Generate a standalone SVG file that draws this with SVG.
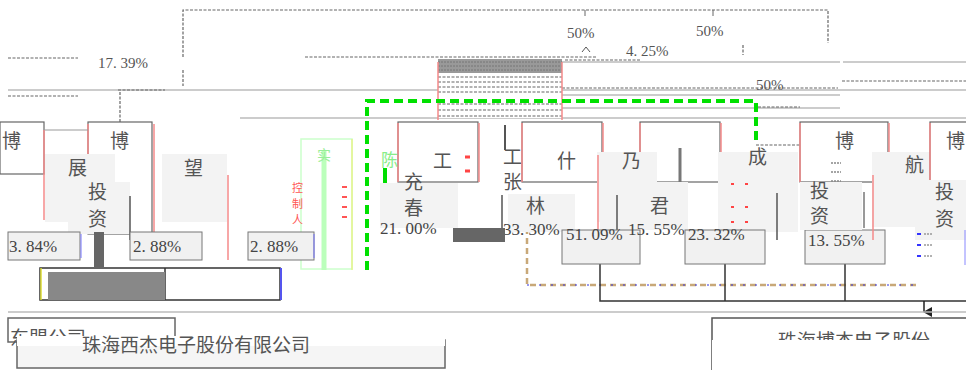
<svg xmlns="http://www.w3.org/2000/svg" width="966" height="370" viewBox="0 0 966 370">
<defs>
<style>
.cj{font-family:"Noto Sans CJK SC","Liberation Serif",serif;fill:#555;font-size:19px}
.pc{font-family:"Liberation Serif",serif;fill:#444;font-size:17px}
.pct{font-family:"Liberation Serif",serif;fill:#555;font-size:15px}
.bx{fill:#fff;stroke:#666;stroke-width:1.2}
.gb{fill:#f3f3f3;stroke:none}
.pb{fill:#f1f1f1;stroke:#777;stroke-width:1}
.red{stroke:#f58a8a;stroke-width:1.5}
.dash{fill:none;stroke:#666;stroke-width:1.2;stroke-dasharray:3 1.5}
.ln{fill:none;stroke:#bbb;stroke-width:1.5}
.sl{fill:none;stroke:#333;stroke-width:1.5}
.blu{stroke:#5555ee;stroke-width:2}
</style>
<marker id="ar" markerWidth="10" markerHeight="10" refX="5" refY="8" orient="auto" markerUnits="userSpaceOnUse"><path d="M0,0 L10,0 L5,9 z" fill="#222"/></marker>
</defs>
<rect width="966" height="370" fill="#fff"/>

<g id="connectors">
<path class="dash" d="M183,57 V10 H828 V43"/>
<line x1="585" y1="10" x2="585" y2="16" stroke="#666"/>
<line x1="713" y1="10" x2="713" y2="16" stroke="#666"/>
<line class="dash" x1="8" y1="58" x2="78" y2="58"/>
<line class="dash" x1="305" y1="57" x2="596" y2="57"/>
<path d="M582,52 L586,47 L590,52" fill="none" stroke="#555"/>
<line class="ln" x1="440" y1="62" x2="840" y2="62"/>
<line class="dash" x1="565" y1="60" x2="640" y2="60" stroke="#aa9"/>
<line class="ln" x1="8" y1="90" x2="966" y2="90"/>
<line class="dash" x1="8" y1="96" x2="78" y2="96"/>
<line class="dash" x1="118" y1="90" x2="165" y2="90" stroke="#e88"/>
<line class="ln" x1="240" y1="118" x2="966" y2="118" stroke="#ccc"/>
<line class="dash" x1="562" y1="88" x2="838" y2="88" stroke="#c88"/>
<line class="dash" x1="842" y1="81" x2="966" y2="81" stroke="#998"/>
<line class="ln" x1="843" y1="62" x2="966" y2="62"/>
<line class="ln" x1="560" y1="95" x2="840" y2="95"/>
<line class="ln" x1="560" y1="108" x2="840" y2="108"/>
<line class="dash" x1="120" y1="92" x2="120" y2="122" stroke="#e66"/>
<line class="dash" x1="183" y1="70" x2="183" y2="86"/>
<line class="dash" x1="743" y1="45" x2="743" y2="55"/>
<g id="hatch">
<rect x="438" y="58" width="124" height="60" fill="#fff"/>
<rect x="438" y="59" width="124" height="14" fill="#999"/>
<path d="M438,62 H562 M438,66 H562 M438,70 H562" stroke="#777" stroke-dasharray="2 1"/>
<path class="dash" d="M438,77 H562 M438,82 H562 M438,87 H562 M438,92 H562 M438,104 H562 M438,110 H562 M438,116 H562"/>
<line x1="438" y1="62" x2="438" y2="120" class="red"/>
<line x1="562" y1="62" x2="562" y2="120" class="red"/>
</g>
<path d="M367,270 V101 H756 V145" fill="none" stroke="#00e000" stroke-width="4" stroke-dasharray="9 5"/>
<line class="dash" x1="756" y1="145" x2="800" y2="145"/>
<line class="dash" x1="758" y1="107" x2="800" y2="107" stroke="#c77"/>
<path d="M527,228 V285 H918" fill="none" stroke="#c8a878" stroke-width="2.5" stroke-dasharray="6 4"/>
<path d="M527,285 H918" fill="none" stroke="#3333dd" stroke-width="1" stroke-dasharray="2 10"/>
<path class="sl" d="M600,263 V301 H966 M725,263 V301 M845,263 V301"/>
<line x1="924" y1="301" x2="924" y2="312" stroke="#222" stroke-width="1.5" marker-end="url(#ar)"/>
<path class="sl" d="M40,268 H280 V300 H40 z M165,268 V300" stroke="#444"/>
<line class="ln" x1="8" y1="312" x2="966" y2="312" stroke="#e8e8e8"/>
<line x1="281" y1="268" x2="281" y2="300" class="blu"/>
<line x1="41" y1="268" x2="41" y2="300" stroke="#dd3" stroke-width="1.5"/>
</g>

<g id="labels">
<text class="pct" x="98" y="68">17. 39%</text>
<text class="pct" x="567" y="38">50%</text>
<text class="pct" x="696" y="36">50%</text>
<text class="pct" x="626" y="56">4. 25%</text>
<text class="pct" x="756" y="90">50%</text>
</g>

<g id="n-left">
<rect x="0" y="122" width="44" height="52" class="bx"/>
<text class="cj" x="2" y="148">博</text>
<rect x="88" y="122" width="64" height="112" class="bx"/>
<line x1="88" y1="124" x2="88" y2="234" class="red"/>
<line x1="154" y1="124" x2="154" y2="234" class="red"/>
<text class="cj" x="110" y="148">博</text>
<line x1="44" y1="130" x2="88" y2="130" stroke="#999"/>
<line x1="44" y1="130" x2="44" y2="220" class="red"/>
</g>
<g id="n-zhan">
<rect x="45" y="154" width="70" height="68" class="gb"/>
<text class="cj" x="68" y="175">展</text>
</g>
<g id="n-wang">
<rect x="162" y="154" width="65" height="68" class="gb"/>
<line x1="228" y1="175" x2="228" y2="260" class="red"/>
<text class="cj" x="184" y="175">望</text>
</g>
<g id="n-touzi1">
<rect x="68" y="182" width="62" height="52" class="gb"/>
<line x1="130" y1="196" x2="130" y2="240" stroke="#555" stroke-width="1.5"/>
<text class="cj" x="88" y="199" font-size="18">投</text>
<text class="cj" x="88" y="226" font-size="18">资</text>
</g>
<g id="n-ctrl">
<rect x="301" y="139" width="51" height="130" fill="none" stroke="#cfc" stroke-width="1.5"/>
<line x1="352" y1="139" x2="352" y2="270" stroke="#ee6" stroke-width="1"/>
<line x1="324" y1="150" x2="324" y2="270" stroke="#bfb" stroke-width="5"/>
<text x="292" y="192" font-family="Noto Sans CJK SC,sans-serif" font-size="11" fill="#f55">控</text>
<text x="292" y="208" font-family="Noto Sans CJK SC,sans-serif" font-size="11" fill="#f55">制</text>
<text x="292" y="224" font-family="Noto Sans CJK SC,sans-serif" font-size="11" fill="#f55">人</text>
<text x="317" y="160" font-family="Noto Sans CJK SC,sans-serif" font-size="14" fill="#9e9">实</text>
<path d="M342,187 h5 M342,197 h5 M342,207 h5 M342,217 h5" stroke="#f55" stroke-width="2"/>
</g>
<g id="n-p1"><rect x="8" y="232" width="72" height="28" class="pb"/><line x1="81" y1="234" x2="81" y2="258" stroke="#77f"/><text class="pc" x="9" y="252">3. 84%</text></g>
<g id="n-p2"><rect x="130" y="232" width="72" height="28" class="pb"/><text class="pc" x="133" y="252">2. 88%</text></g>
<g id="n-p3"><rect x="248" y="232" width="66" height="28" class="pb"/><line x1="314" y1="234" x2="314" y2="258" stroke="#77f"/><text class="pc" x="250" y="252">2. 88%</text></g>
<rect x="94" y="232" width="10" height="36" fill="#666"/>
<rect x="48" y="272" width="117" height="28" fill="#888"/>

<g id="n-chen">
<rect x="398" y="122" width="80" height="60" class="bx"/>
<line x1="398" y1="123" x2="398" y2="182" class="red"/>
<line x1="479" y1="123" x2="479" y2="182" class="red"/>
<text x="381" y="166" font-family="Noto Sans CJK SC,sans-serif" font-size="17" fill="#8e8">陈</text>
<line x1="385" y1="168" x2="385" y2="186" stroke="#0d0" stroke-width="4"/>
<text class="cj" x="433" y="168" fill="#a66">工</text>
<path d="M465,157 h5 M465,171 h5" stroke="#f44" stroke-width="3"/>
<rect x="380" y="183" width="78" height="45" class="gb"/>
<text class="cj" x="404" y="189" font-size="18">充</text>
<text class="cj" x="404" y="215" font-size="18">春</text>
<text class="pc" x="380" y="234">21. 00%</text>
</g>
<g id="n-zhang">
<line x1="505" y1="125" x2="505" y2="150" stroke="#555" stroke-width="2"/>
<text class="cj" x="503" y="164" font-size="17">工</text>
<text class="cj" x="503" y="189" font-size="17">张</text>
<rect x="508" y="194" width="67" height="38" class="gb"/>
<line x1="502" y1="195" x2="502" y2="230" stroke="#555" stroke-width="1.5"/>
<text class="cj" x="526" y="213">林</text>
<text class="pc" x="503" y="235">33. 30%</text>
<rect x="453" y="228" width="52" height="14" fill="#666"/>
</g>
<g id="n-shi">
<rect x="522" y="122" width="80" height="60" class="bx"/>
<line x1="522" y1="123" x2="522" y2="182" class="red"/>
<line x1="603" y1="123" x2="603" y2="182" class="red"/>
<text class="cj" x="557" y="168">什</text>
</g>
<g id="n-jun">
<rect x="640" y="122" width="80" height="60" class="bx"/>
<line x1="640" y1="123" x2="640" y2="182" class="red"/>
<line x1="721" y1="123" x2="721" y2="182" class="red"/>
<rect x="597" y="152" width="60" height="70" class="gb"/>
<line x1="598" y1="155" x2="598" y2="230" class="red"/>
<text class="cj" x="622" y="168">乃</text>
<line x1="680" y1="148" x2="680" y2="182" stroke="#777" stroke-width="3"/>
<rect x="600" y="182" width="88" height="48" class="gb"/>
<line x1="617" y1="195" x2="617" y2="230" stroke="#555" stroke-width="1.5"/>
<text class="cj" x="650" y="213">君</text>
</g>
<g id="n-cheng">
<rect x="718" y="152" width="80" height="80" class="gb"/>
<text class="cj" x="748" y="164">成</text>
<path d="M731,184 h3 M745,184 h3 M731,207 h3 M745,207 h3 M731,222 h3 M745,222 h3" stroke="#f44" stroke-width="2"/>
<line x1="777" y1="193" x2="777" y2="240" stroke="#555" stroke-width="1.5"/>
</g>
<g id="n-p4"><rect x="562" y="230" width="78" height="34" class="pb"/><text class="pc" x="566" y="240">51. 09%</text></g>
<g id="n-p5"><rect x="685" y="230" width="80" height="34" class="pb"/><text class="pc" x="688" y="240">23. 32%</text><text class="pc" x="628" y="235" fill="#888">15. 55%</text></g>
<g id="n-p6"><rect x="805" y="230" width="80" height="34" class="pb"/><text class="pc" x="808" y="246">13. 55%</text></g>
<g id="n-bo2">
<rect x="800" y="122" width="88" height="60" class="bx"/>
<line x1="800" y1="123" x2="800" y2="182" class="red"/>
<line x1="889" y1="123" x2="889" y2="182" class="red"/>
<text class="cj" x="835" y="148">博</text>
<path d="M831,163 h10 M831,172 h10 M831,181 h10" stroke="#888" stroke-width="1.5" stroke-dasharray="2 1"/>
<rect x="872" y="152" width="60" height="75" class="gb"/>
<line x1="873" y1="175" x2="873" y2="240" class="red"/>
<text class="cj" x="905" y="172">航</text>
<rect x="800" y="182" width="62" height="48" class="gb"/>
<line x1="864" y1="192" x2="864" y2="228" stroke="#777" stroke-width="1.5"/>
<text class="cj" x="810" y="198" font-size="18">投</text>
<text class="cj" x="810" y="223" font-size="18">资</text>
</g>
<g id="n-bo3">
<rect x="930" y="122" width="40" height="60" class="bx"/>
<line x1="930" y1="123" x2="930" y2="182" class="red"/>
<text class="cj" x="946" y="148">博</text>
<rect x="915" y="180" width="51" height="60" class="gb"/>
<text class="cj" x="935" y="199" font-size="18">投</text>
<text class="cj" x="935" y="226" font-size="18">资</text>
<path d="M917,234 h4 M917,245 h4 M917,256 h4" stroke="#33f" stroke-width="2"/>
<path d="M924,234 h8 M924,245 h8 M924,256 h8" stroke="#999" stroke-width="1.5" stroke-dasharray="2 1"/>
<line x1="965" y1="230" x2="965" y2="265" stroke="#88f"/>
</g>

<g id="n-dongmeng">
<rect x="8" y="318" width="167" height="24" fill="#fff" stroke="#666" stroke-width="1.5"/>
<text class="cj" x="10" y="345" font-size="17">东盟公司</text>
</g>
<g id="n-xijie">
<rect x="17" y="340" width="428" height="28" fill="#f5f5f5" stroke="#666" stroke-width="1.5"/>
<rect x="17" y="336" width="428" height="10" fill="#fff"/>
<text class="cj" x="82" y="352" font-size="17">珠海西杰电子股份有限公司</text>
</g>
<g id="n-bojie">
<rect x="712" y="318" width="262" height="60" fill="#fff" stroke="#555" stroke-width="1.5"/>
<text class="cj" x="778" y="348" font-size="17">珠海博杰电子股份</text>
<rect x="712" y="340" width="260" height="30" fill="#fff"/>
</g>
</svg>
